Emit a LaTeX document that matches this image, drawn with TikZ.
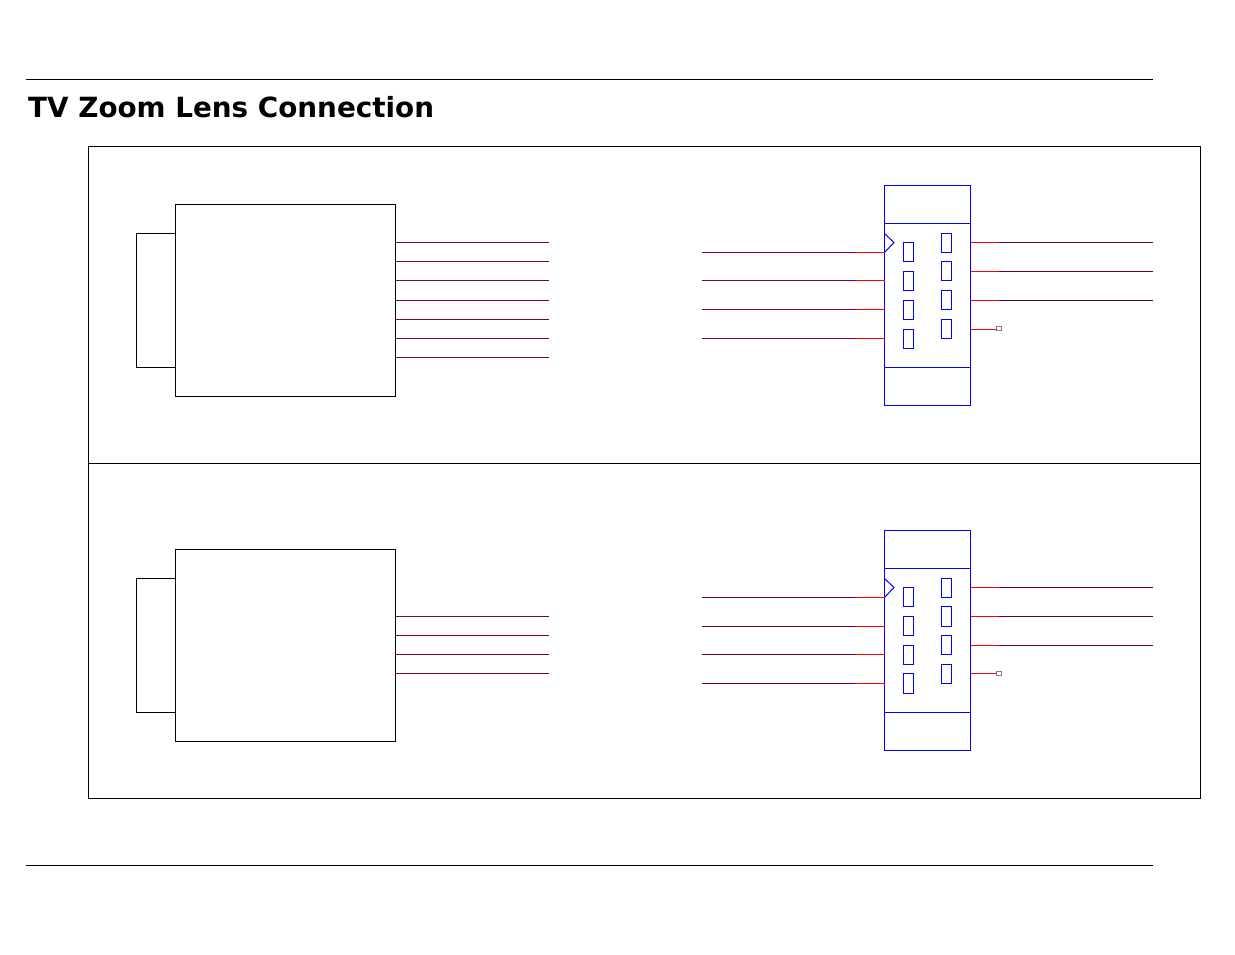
\documentclass[tikz,border=0pt]{standalone}
\usepackage{fontspec}
\setmainfont{DejaVu Sans}
\definecolor{wireA}{HTML}{800040}
\definecolor{wireB}{HTML}{660033}
\definecolor{pinblue}{HTML}{0000FF}
\definecolor{endgray}{HTML}{808080}
\tikzset{
  blk/.style={draw=black,line width=1pt,rectangle,inner sep=0pt,outer sep=0pt},
  conn/.style={draw=pinblue,line width=1pt,rectangle,inner sep=0pt,outer sep=0pt},
  stub/.style={draw=endgray,line width=1pt,rectangle,inner sep=0pt,outer sep=0pt,minimum width=5pt,minimum height=4pt},
  rule/.style={draw=black,line width=1pt},
  redw/.style={draw=red,line width=1pt},
}
% \bx{style}{name}{x1}{y1}{x2}{y2}
\newcommand{\bx}[6]{%
  \pgfmathsetmacro{\bxw}{(#5)-(#3)}\pgfmathsetmacro{\bxh}{(#6)-(#4)}%
  \pgfmathsetmacro{\bxcx}{((#3)+(#5))/2}\pgfmathsetmacro{\bxcy}{((#4)+(#6))/2}%
  \node[#1,minimum width=\bxw pt,minimum height=\bxh pt] (#2) at (\bxcx,\bxcy) {};}
% connector unit: \unitc{prefix}{dy}
\newcommand{\unitc}[2]{%
  \bx{conn}{#1top}{884.5}{#2+185.5}{970.5}{#2+223.5}
  \bx{conn}{#1mid}{884.5}{#2+223.5}{970.5}{#2+367.5}
  \bx{conn}{#1bot}{884.5}{#2+367.5}{970.5}{#2+405.5}
  \draw[draw=pinblue,line width=1pt] (884.5,#2+233.5) -- (894,#2+242.5) -- (884.5,#2+252.5);
}
\begin{document}
\begin{tikzpicture}[x=1pt,y=-1pt]
\useasboundingbox (0,0) rectangle (1235,954);
% header and frame
\coordinate (rule1a) at (26,79.5);  \coordinate (rule1b) at (1153,79.5);
\coordinate (rule2a) at (26,865.5); \coordinate (rule2b) at (1153,865.5);
\draw[rule] (rule1a) -- (rule1b);
\draw[rule] (rule2a) -- (rule2b);
\node[anchor=base west,inner sep=0pt,font=\fontsize{27.8pt}{30pt}\selectfont\bfseries] (title) at (28,117) {TV Zoom Lens Connection};
\bx{blk}{frameA}{88.5}{146.5}{1200.5}{463.5}
\bx{blk}{frameB}{88.5}{463.5}{1200.5}{798.5}
% lens blocks
\bx{blk}{tabA}{136.5}{233.5}{175.5}{367.5}
\bx{blk}{lensA}{175.5}{204.5}{395.5}{396.5}
\bx{blk}{tabB}{136.5}{578.5}{175.5}{712.5}
\bx{blk}{lensB}{175.5}{549.5}{395.5}{741.5}
% lens wires
\foreach \n/\y in {1/242.5,2/261.5,3/280.5,4/300.5,5/319.5,6/338.5,7/357.5}{
  \coordinate (la\n) at (549,\y);
  \draw[draw=wireA,line width=1pt] (la\n -| lensA.east) -- (la\n);
}
\foreach \n/\y in {1/616.5,2/635.5,3/654.5,4/673.5}{
  \coordinate (lb\n) at (549,\y);
  \draw[draw=wireA,line width=1pt] (lb\n -| lensB.east) -- (lb\n);
}
% connector units
\unitc{ca}{0}
\unitc{cb}{345}
% pins unit A
\bx{conn}{paL1}{903.5}{242.5}{913.5}{261.5}
\bx{conn}{paL2}{903.5}{271.5}{913.5}{290.5}
\bx{conn}{paL3}{903.5}{300.5}{913.5}{319.5}
\bx{conn}{paL4}{903.5}{329.5}{913.5}{348.5}
\bx{conn}{paR1}{941.5}{233.5}{951.5}{252.5}
\bx{conn}{paR2}{941.5}{261.5}{951.5}{280.5}
\bx{conn}{paR3}{941.5}{290.5}{951.5}{309.5}
\bx{conn}{paR4}{941.5}{319.5}{951.5}{338.5}
% pins unit B
\bx{conn}{pbL1}{903.5}{587.5}{913.5}{606.5}
\bx{conn}{pbL2}{903.5}{616.5}{913.5}{635.5}
\bx{conn}{pbL3}{903.5}{645.5}{913.5}{664.5}
\bx{conn}{pbL4}{903.5}{673.5}{913.5}{693.5}
\bx{conn}{pbR1}{941.5}{578.5}{951.5}{597.5}
\bx{conn}{pbR2}{941.5}{606.5}{951.5}{626.5}
\bx{conn}{pbR3}{941.5}{635.5}{951.5}{654.5}
\bx{conn}{pbR4}{941.5}{664.5}{951.5}{683.5}
% wires into unit A
\foreach \n/\y in {1/252.5,2/280.5,3/309.5,4/338.5}{
  \coordinate (ia\n) at (702,\y);
  \coordinate (ja\n) at (855,\y);
  \draw[draw=wireA,line width=1pt] (ia\n) -- (ja\n);
  \draw[redw] (ja\n) -- (ja\n -| camid.west);
}
% wires into unit B
\foreach \n/\y in {1/597.5,2/626.5,3/654.5,4/683.5}{
  \coordinate (ib\n) at (702,\y);
  \coordinate (jb\n) at (855,\y);
  \draw[draw=wireB,line width=1pt] (ib\n) -- (jb\n);
  \draw[redw] (jb\n) -- (jb\n -| cbmid.west);
}
% wires out of unit A
\foreach \n/\y in {1/242.5,2/271.5,3/300.5}{
  \coordinate (ka\n) at (999,\y);
  \coordinate (ma\n) at (1153,\y);
  \draw[redw] (ka\n -| camid.east) -- (ka\n);
  \draw[draw=wireB,line width=1pt] (ka\n) -- (ma\n);
}
% wires out of unit B
\foreach \n/\y in {1/587.5,2/616.5,3/645.5}{
  \coordinate (kb\n) at (999,\y);
  \coordinate (mb\n) at (1153,\y);
  \draw[redw] (kb\n -| cbmid.east) -- (kb\n);
  \draw[draw=wireB,line width=1pt] (kb\n) -- (mb\n);
}
% stubs
\node[stub] (sa) at (999,328.5) {};
\node[stub] (sb) at (999,673.5) {};
\coordinate (sax) at (996.5,329.5);
\coordinate (sbx) at (996.5,673.5);
\draw[redw] (sax -| camid.east) -- (sax);
\draw[redw] (sbx -| cbmid.east) -- (sbx);
\end{tikzpicture}
\end{document}
